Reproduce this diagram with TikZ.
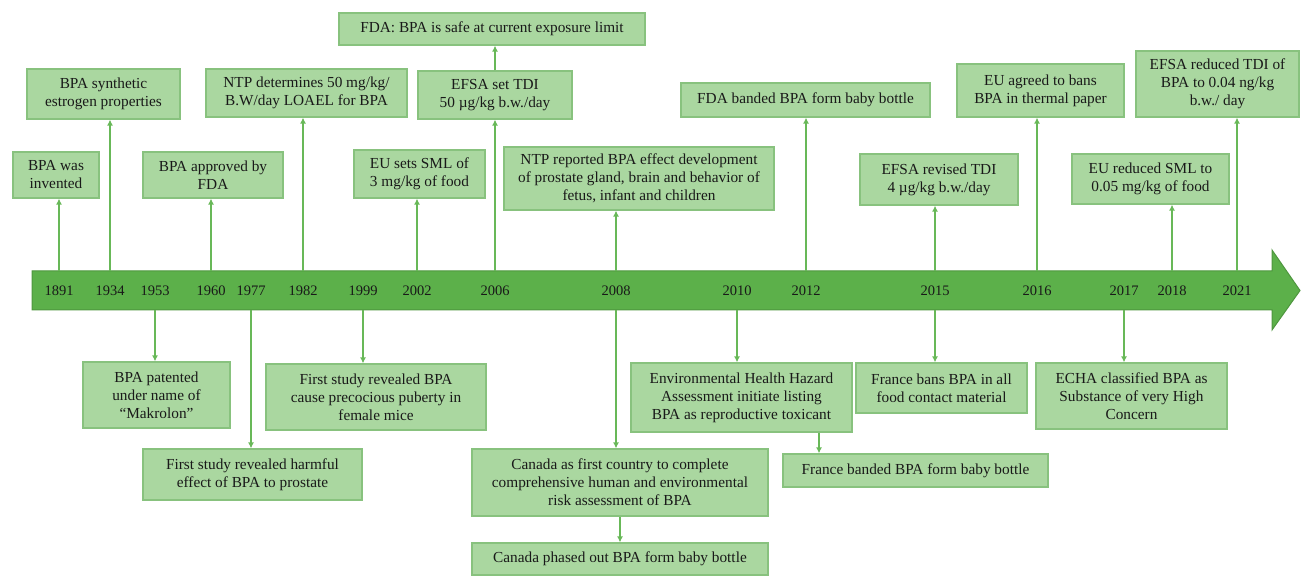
\documentclass[tikz,border=0pt]{standalone}
\usepackage{fontspec}
\setmainfont{Liberation Serif}
\usetikzlibrary{arrows.meta}

\definecolor{boxfill}{RGB}{170,215,160}
\definecolor{boxline}{RGB}{136,194,126}
\definecolor{barfill}{RGB}{92,176,74}
\definecolor{barline}{RGB}{78,150,62}
\definecolor{linkcol}{RGB}{104,184,88}

\tikzset{
	evbox/.style={draw=boxline, fill=boxfill, line width=1.2pt, align=center, inner sep=2pt,
		text=black!90, font=\fontsize{15.3}{18}\selectfont},
	yearlbl/.style={text=black!90, font=\fontsize{14.5}{16}\selectfont},
	link/.style={draw=linkcol, line width=2.2pt, -{Latex[length=6pt,width=6pt]}}
}

\begin{document}
\begin{tikzpicture}[x=1pt,y=-1pt]
			
			\useasboundingbox (0,0) rectangle (1301,577);
			
			% timeline
			\draw[fill=barfill, draw=barline, line width=1pt] (32,271) -- (1272,271) -- (1272,250) -- (1300,290.5)
				-- (1272,330) -- (1272,310) -- (32,310) -- cycle;
			\coordinate (bartop) at (0,271);
			\coordinate (barbot) at (0,310);
			
			\foreach \yr/\xx in {1891/59, 1934/110, 1953/155, 1960/211, 1977/251, 1982/303, 1999/363, 2002/417,
				2006/495, 2008/616, 2010/737, 2012/806, 2015/935, 2016/1037, 2017/1124, 2018/1172, 2021/1237}
				\node[yearlbl] (y\yr) at (\xx,291) {\yr};
			
			\begin{scope}
				% events above the line
				\node[evbox, minimum width=306pt, minimum height=32pt] (fdasafe) at (492,29) {FDA: BPA is safe at current exposure limit};
				\node[evbox, minimum width=153pt, minimum height=50pt] (synth) at (103.5,94) {BPA synthetic\\estrogen properties};
				\node[evbox, minimum width=201pt, minimum height=48pt] (ntploael) at (306.5,93) {NTP determines 50 mg/kg/\\B.W/day LOAEL for BPA};
				\node[evbox, minimum width=154pt, minimum height=48pt] (efsatdi) at (495,95) {EFSA set TDI\\50 µg/kg b.w./day};
				\node[evbox, minimum width=249pt, minimum height=34pt] (fdabottle) at (805.5,100) {FDA banded BPA form baby bottle};
				\node[evbox, minimum width=167pt, minimum height=53pt] (thermal) at (1040.5,90.5) {EU agreed to bans\\BPA in thermal paper};
				\node[evbox, minimum width=163pt, minimum height=66pt] (efsanew) at (1217.5,84) {EFSA reduced TDI of\\BPA to 0.04 ng/kg\\b.w./ day};
				
				\node[evbox, minimum width=86pt, minimum height=46pt] (invented) at (56,175) {BPA was\\invented};
				\node[evbox, minimum width=140pt, minimum height=46pt] (approved) at (213,175) {BPA approved by\\FDA};
				\node[evbox, minimum width=131pt, minimum height=48pt] (smlold) at (419.5,174) {EU sets SML of\\3 mg/kg of food};
				\node[evbox, minimum width=270pt, minimum height=63pt] (ntpeffect) at (639,178.5) {NTP reported BPA effect development\\of prostate gland, brain and behavior of\\fetus, infant and children};
				\node[evbox, minimum width=158pt, minimum height=51pt] (tdirev) at (939,179.5) {EFSA revised TDI\\4 µg/kg b.w./day};
				\node[evbox, minimum width=157pt, minimum height=50pt] (smlnew) at (1150.5,179) {EU reduced SML to\\0.05 mg/kg of food};
			\end{scope}
			
			\begin{scope}
				% events below the line
				\node[evbox, minimum width=147pt, minimum height=66pt] (patent) at (156.5,395) {BPA patented\\under name of\\“Makrolon”};
				\node[evbox, minimum width=220pt, minimum height=66pt] (puberty) at (376,397) {First study revealed BPA\\cause precocious puberty in\\female mice};
				\node[evbox, minimum width=219pt, minimum height=51pt] (prostate) at (252.5,474.5) {First study revealed harmful\\effect of BPA to prostate};
				\node[evbox, minimum width=221pt, minimum height=69pt] (hazard) at (741.5,397.5) {Environmental Health Hazard\\Assessment initiate listing\\BPA as reproductive toxicant};
				\node[evbox, minimum width=296pt, minimum height=67pt] (canada) at (620,482.5) {Canada as first country to complete\\comprehensive human and environmental\\risk assessment of BPA};
				\node[evbox, minimum width=296pt, minimum height=32pt] (phaseout) at (620,559) {Canada phased out BPA form baby bottle};
				\node[evbox, minimum width=265pt, minimum height=33pt] (frbottle) at (915.5,470.5) {France banded BPA form baby bottle};
				\node[evbox, minimum width=171pt, minimum height=50pt] (frfood) at (941.5,388) {France bans BPA in all\\food contact material};
				\node[evbox, minimum width=191pt, minimum height=66pt] (echa) at (1131.5,396) {ECHA classified BPA as\\Substance of very High\\Concern};
			\end{scope}
			
			% connectors up
			\draw[link] (y1891 |- bartop) -- (y1891 |- invented.south);
			\draw[link] (y1934 |- bartop) -- (y1934 |- synth.south);
			\draw[link] (y1960 |- bartop) -- (y1960 |- approved.south);
			\draw[link] (y1982 |- bartop) -- (y1982 |- ntploael.south);
			\draw[link] (y2002 |- bartop) -- (y2002 |- smlold.south);
			\draw[link] (y2006 |- bartop) -- (y2006 |- efsatdi.south);
			\draw[link] (y2006 |- efsatdi.north) -- (y2006 |- fdasafe.south);
			\draw[link] (y2008 |- bartop) -- (y2008 |- ntpeffect.south);
			\draw[link] (y2012 |- bartop) -- (y2012 |- fdabottle.south);
			\draw[link] (y2015 |- bartop) -- (y2015 |- tdirev.south);
			\draw[link] (y2016 |- bartop) -- (y2016 |- thermal.south);
			\draw[link] (y2018 |- bartop) -- (y2018 |- smlnew.south);
			\draw[link] (y2021 |- bartop) -- (y2021 |- efsanew.south);
			
			% connectors down
			\draw[link] (y1953 |- barbot) -- (y1953 |- patent.north);
			\draw[link] (y1977 |- barbot) -- (y1977 |- prostate.north);
			\draw[link] (y1999 |- barbot) -- (y1999 |- puberty.north);
			\draw[link] (y2008 |- barbot) -- (y2008 |- canada.north);
			\draw[link] (canada.south) -- (phaseout.north);
			\draw[link] (y2010 |- barbot) -- (y2010 |- hazard.north);
			\draw[link] (hazard.south -| 819,0) -- (frbottle.north -| 819,0);
			\draw[link] (y2015 |- barbot) -- (y2015 |- frfood.north);
			\draw[link] (y2017 |- barbot) -- (y2017 |- echa.north);
		
		\end{tikzpicture}
\end{document}
